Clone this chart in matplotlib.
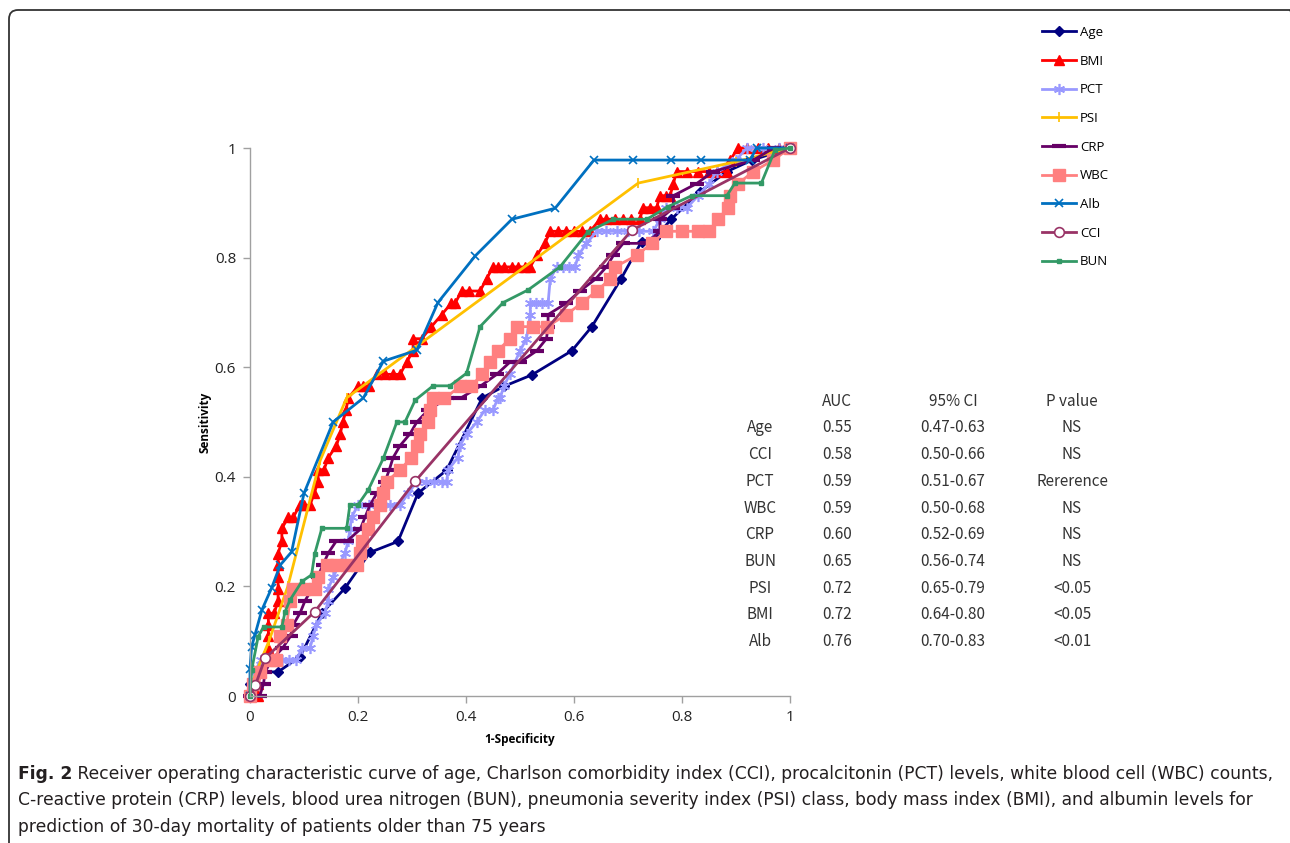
import matplotlib
matplotlib.use("Agg")
import matplotlib.pyplot as plt
from matplotlib.patches import FancyBboxPatch
from matplotlib.transforms import IdentityTransform

# ROC curve points (x = 1-specificity, y = sensitivity)
age_x = [0, 0.0, 0.02, 0.052, 0.093, 0.133, 0.176, 0.222, 0.274, 0.311, 0.364, 0.43, 0.47,
         0.522, 0.596, 0.633, 0.687, 0.725, 0.75, 0.78, 0.833, 0.883, 0.93, 1.0]
age_y = [0, 0.022, 0.044, 0.044, 0.072, 0.151, 0.197, 0.262, 0.282, 0.37, 0.412, 0.544, 0.565,
         0.586, 0.63, 0.674, 0.761, 0.829, 0.836, 0.87, 0.92, 0.957, 0.978, 1.0]

bmi_x = [0, 0.015, 0.015, 0.02, 0.025, 0.034, 0.034, 0.034, 0.034, 0.045, 0.052, 0.052, 0.052,
         0.052, 0.052, 0.059, 0.059, 0.071, 0.08, 0.092, 0.1, 0.111, 0.119, 0.126, 0.126, 0.137,
         0.145, 0.16, 0.167, 0.172, 0.178, 0.182, 0.2, 0.21, 0.22, 0.235, 0.25, 0.265, 0.278,
         0.29, 0.302, 0.302, 0.318, 0.336, 0.355, 0.373, 0.38, 0.392, 0.405, 0.426, 0.438, 0.45,
         0.46, 0.47, 0.485, 0.497, 0.51, 0.519, 0.531, 0.546, 0.556, 0.57, 0.585, 0.6, 0.615,
         0.63, 0.648, 0.66, 0.675, 0.69, 0.705, 0.722, 0.728, 0.74, 0.753, 0.759, 0.77, 0.778,
         0.784, 0.79, 0.81, 0.83, 0.85, 0.865, 0.883, 0.889, 0.904, 0.92, 0.94, 0.96, 0.98, 1.0]
bmi_y = [0, 0.0, 0.022, 0.044, 0.066, 0.087, 0.109, 0.13, 0.151, 0.151, 0.174, 0.196, 0.217,
         0.239, 0.26, 0.283, 0.306, 0.326, 0.326, 0.348, 0.348, 0.348, 0.37, 0.391, 0.413, 0.413,
         0.435, 0.457, 0.478, 0.5, 0.522, 0.544, 0.565, 0.565, 0.565, 0.587, 0.587, 0.587, 0.587,
         0.609, 0.63, 0.652, 0.652, 0.674, 0.696, 0.717, 0.717, 0.739, 0.739, 0.739, 0.761, 0.783,
         0.783, 0.783, 0.783, 0.783, 0.783, 0.783, 0.804, 0.826, 0.848, 0.848, 0.848, 0.848, 0.848,
         0.848, 0.87, 0.87, 0.87, 0.87, 0.87, 0.87, 0.891, 0.891, 0.891, 0.913, 0.913, 0.913,
         0.935, 0.957, 0.957, 0.957, 0.957, 0.957, 0.957, 0.978, 1.0, 1.0, 1.0, 1.0, 1.0, 1.0]

pct_x = [0, 0.005, 0.009, 0.02, 0.035, 0.047, 0.059, 0.072, 0.086, 0.096, 0.111, 0.117, 0.123,
         0.139, 0.145, 0.145, 0.154, 0.165, 0.176, 0.182, 0.185, 0.188, 0.2, 0.22, 0.24, 0.26,
         0.278, 0.293, 0.309, 0.325, 0.34, 0.355, 0.364, 0.367, 0.385, 0.389, 0.401, 0.42, 0.435,
         0.45, 0.459, 0.463, 0.47, 0.481, 0.5, 0.512, 0.519, 0.519, 0.53, 0.54, 0.552, 0.556,
         0.568, 0.58, 0.59, 0.602, 0.608, 0.623, 0.642, 0.66, 0.68, 0.7, 0.72, 0.747, 0.759,
         0.77, 0.79, 0.809, 0.83, 0.85, 0.864, 0.9, 0.92, 0.95, 0.98, 1.0]
pct_y = [0, 0.022, 0.044, 0.066, 0.066, 0.066, 0.066, 0.066, 0.066, 0.087, 0.087, 0.109, 0.13,
         0.152, 0.174, 0.196, 0.217, 0.239, 0.261, 0.283, 0.304, 0.326, 0.348, 0.348, 0.348, 0.348,
         0.348, 0.37, 0.391, 0.391, 0.391, 0.391, 0.391, 0.413, 0.435, 0.457, 0.478, 0.5, 0.522,
         0.522, 0.543, 0.543, 0.565, 0.587, 0.63, 0.652, 0.696, 0.717, 0.717, 0.717, 0.717, 0.761,
         0.783, 0.783, 0.783, 0.783, 0.804, 0.826, 0.848, 0.848, 0.848, 0.848, 0.848, 0.848, 0.87,
         0.891, 0.891, 0.891, 0.913, 0.935, 0.957, 0.978, 1.0, 1.0, 1.0, 1.0]

psi_x = [0, 0.01, 0.035, 0.07, 0.13, 0.179, 0.719, 0.9, 1.0]
psi_y = [0, 0.04, 0.1, 0.2, 0.43, 0.544, 0.936, 0.975, 1.0]

crp_x = [0, 0.018, 0.025, 0.028, 0.04, 0.06, 0.075, 0.08, 0.093, 0.102, 0.115, 0.125, 0.135,
         0.145, 0.16, 0.18, 0.204, 0.213, 0.222, 0.235, 0.25, 0.258, 0.265, 0.278, 0.296, 0.309,
         0.33, 0.365, 0.389, 0.426, 0.457, 0.481, 0.5, 0.531, 0.549, 0.552, 0.552, 0.586, 0.611,
         0.64, 0.66, 0.673, 0.691, 0.735, 0.759, 0.759, 0.784, 0.784, 0.827, 0.858, 0.932, 0.97, 1.0]
crp_y = [0, 0.0, 0.022, 0.044, 0.066, 0.087, 0.109, 0.13, 0.152, 0.174, 0.196, 0.217, 0.239,
         0.261, 0.283, 0.283, 0.304, 0.326, 0.348, 0.37, 0.391, 0.413, 0.435, 0.457, 0.478, 0.5,
         0.522, 0.543, 0.543, 0.565, 0.587, 0.609, 0.609, 0.63, 0.652, 0.674, 0.696, 0.717, 0.739,
         0.761, 0.783, 0.804, 0.826, 0.826, 0.848, 0.87, 0.891, 0.913, 0.935, 0.957, 0.978, 1.0, 1.0]

wbc_x = [0, 0.005, 0.019, 0.037, 0.049, 0.056, 0.068, 0.074, 0.08, 0.1, 0.12, 0.126, 0.142, 0.16,
         0.18, 0.198, 0.204, 0.207, 0.218, 0.228, 0.241, 0.247, 0.253, 0.278, 0.299, 0.31, 0.315,
         0.33, 0.333, 0.339, 0.36, 0.389, 0.41, 0.429, 0.445, 0.459, 0.481, 0.494, 0.524, 0.55,
         0.586, 0.614, 0.642, 0.667, 0.676, 0.716, 0.744, 0.77, 0.8, 0.83, 0.85, 0.867, 0.885,
         0.889, 0.904, 0.932, 0.969, 1.0]
wbc_y = [0, 0.022, 0.044, 0.066, 0.066, 0.109, 0.13, 0.174, 0.196, 0.196, 0.196, 0.217, 0.239,
         0.239, 0.239, 0.239, 0.261, 0.283, 0.304, 0.326, 0.348, 0.37, 0.391, 0.413, 0.435, 0.457,
         0.478, 0.5, 0.522, 0.543, 0.543, 0.565, 0.565, 0.587, 0.609, 0.63, 0.652, 0.674, 0.674,
         0.674, 0.696, 0.717, 0.739, 0.761, 0.783, 0.804, 0.826, 0.848, 0.848, 0.848, 0.848, 0.87,
         0.891, 0.913, 0.935, 0.957, 0.978, 1.0]

alb_x = [0, 0.0, 0.003, 0.009, 0.022, 0.04, 0.056, 0.077, 0.1, 0.154, 0.21, 0.247, 0.309, 0.348,
         0.417, 0.485, 0.565, 0.637, 0.709, 0.779, 0.836, 0.926, 0.938, 1.0]
alb_y = [0, 0.05, 0.09, 0.111, 0.157, 0.197, 0.239, 0.263, 0.37, 0.5, 0.544, 0.611, 0.631, 0.718,
         0.803, 0.87, 0.89, 0.978, 0.978, 0.978, 0.978, 0.978, 1.0, 1.0]

cci_x = [0, 0.01, 0.028, 0.12, 0.306, 0.707, 1.0]
cci_y = [0, 0.02, 0.069, 0.154, 0.392, 0.85, 1.0]

bun_x = [0, 0.003, 0.015, 0.025, 0.059, 0.065, 0.074, 0.096, 0.114, 0.12, 0.133, 0.179, 0.185,
         0.2, 0.219, 0.247, 0.272, 0.287, 0.306, 0.339, 0.37, 0.401, 0.426, 0.469, 0.515, 0.574,
         0.626, 0.673, 0.735, 0.774, 0.818, 0.883, 0.898, 0.947, 0.972, 1.0]
bun_y = [0, 0.047, 0.108, 0.126, 0.126, 0.154, 0.175, 0.209, 0.221, 0.26, 0.306, 0.306, 0.349,
         0.349, 0.376, 0.434, 0.5, 0.5, 0.54, 0.566, 0.566, 0.589, 0.674, 0.718, 0.741, 0.783,
         0.847, 0.87, 0.87, 0.893, 0.913, 0.913, 0.936, 0.936, 0.996, 1.0]

# summary table
tbl_names = ["Age", "CCI", "PCT", "WBC", "CRP", "BUN", "PSI", "BMI", "Alb"]
tbl_auc = ["0.55", "0.58", "0.59", "0.59", "0.60", "0.65", "0.72", "0.72", "0.76"]
tbl_ci = ["0.47-0.63", "0.50-0.66", "0.51-0.67", "0.50-0.68", "0.52-0.69",
          "0.56-0.74", "0.65-0.79", "0.64-0.80", "0.70-0.83"]
tbl_p = ["NS", "NS", "Rererence", "NS", "NS", "NS", "<0.05", "<0.05", "<0.01"]

caption = [
    "Receiver operating characteristic curve of age, Charlson comorbidity index (CCI), procalcitonin (PCT) levels, white blood cell (WBC) counts,",
    "C-reactive protein (CRP) levels, blood urea nitrogen (BUN), pneumonia severity index (PSI) class, body mass index (BMI), and albumin levels for",
    "prediction of 30-day mortality of patients older than 75 years",
]

W, H = 1290, 843
fig = plt.figure(figsize=(W / 100, H / 100), dpi=100)
fig.patch.set_facecolor("white")
ax = fig.add_axes([250 / W, 1 - 696 / H, 540 / W, 548 / H])

series = [
    ("Age", age_x, age_y, dict(color="#000080", marker="D", ms=5)),
    ("BMI", bmi_x, bmi_y, dict(color="#FF0000", marker="^", ms=7)),
    ("PCT", pct_x, pct_y, dict(color="#9999FF", marker=(6, 2, 0), ms=8, mew=1.2)),
    ("PSI", psi_x, psi_y, dict(color="#FFC000", marker="|", ms=7, mew=1.2)),
    ("CRP", crp_x, crp_y, dict(color="#660066", marker="_", ms=10, mew=3)),
    ("WBC", wbc_x, wbc_y, dict(color="#FF8080", marker="s", ms=8)),
    ("Alb", alb_x, alb_y, dict(color="#0070C0", marker="x", ms=6, mew=1.2)),
    ("CCI", cci_x, cci_y, dict(color="#993366", marker="o", ms=7, mfc="white", mew=1.2)),
    ("BUN", bun_x, bun_y, dict(color="#339966", marker="s", ms=2.5)),
]
for name, xs, ys, st in series:
    ax.plot(xs, ys, label=name, lw=2, clip_on=False, **st)

ax.set_xlim(0, 1)
ax.set_ylim(0, 1)
ax.set_xticks([0, 0.2, 0.4, 0.6, 0.8, 1])
ax.set_yticks([0, 0.2, 0.4, 0.6, 0.8, 1])
ax.set_xticklabels(["0", "0.2", "0.4", "0.6", "0.8", "1"])
ax.set_yticklabels(["0", "0.2", "0.4", "0.6", "0.8", "1"])
for s in ["top", "right"]:
    ax.spines[s].set_visible(False)
for s in ["left", "bottom"]:
    ax.spines[s].set_color("#A0A0A0")
    ax.spines[s].set_linewidth(1)
ax.tick_params(colors="#A0A0A0", labelcolor="#222222", length=5, width=1,
               labelsize=11, pad=5)
for lab in ax.get_xticklabels() + ax.get_yticklabels():
    lab.set_family("Open Sans")
ax.set_xlabel("1-Specificity", fontsize=8.5, fontweight="bold", family="Open Sans", labelpad=6)
ax.set_ylabel("Sensitivity", fontsize=8.5, fontweight="bold", family="Open Sans", labelpad=2)

leg = fig.legend(loc="upper left", bbox_to_anchor=(1030 / W, 1 - 14 / H), frameon=False,
                 handlelength=2.6, handletextpad=0.3, labelspacing=1.19,
                 prop={"family": "Open Sans", "size": 9.5})

# table
tfont = ["Noto Sans CJK JP", "DejaVu Sans"]
hy = 401
for label, xc in [("AUC", 837), ("95% CI", 953), ("P value", 1072)]:
    fig.text(xc / W, 1 - hy / H, label, ha="center", va="center", fontsize=11,
             family=tfont, color="#333333")
for i, name in enumerate(tbl_names):
    y = 1 - (428 + i * 26.7) / H
    for txt, xc in [(name, 760), (tbl_auc[i], 837), (tbl_ci[i], 953), (tbl_p[i], 1072)]:
        fig.text(xc / W, y, txt, ha="center", va="center", fontsize=11,
                 family=tfont, color="#333333")

# caption
cfont = ["Liberation Sans Narrow", "DejaVu Sans"]
csize = 12.3
t0 = fig.text(18 / W, 1 - 774 / H, "Fig. 2", fontsize=csize, fontweight="bold",
              family=cfont, va="center", color="#231f20")
ax.annotate(" " + caption[0], xy=(1, 0.5), xycoords=t0, va="center", ha="left",
            fontsize=csize, family=cfont, color="#231f20", annotation_clip=False)
for i, line in enumerate(caption[1:]):
    fig.text(18 / W, 1 - (800 + 26.5 * i) / H, line, fontsize=csize, family=cfont,
             va="center", color="#231f20")

# rounded frame around the figure panel (right and bottom edges run off the image)
frame = FancyBboxPatch((9, -12), 1290, 845, boxstyle="round,pad=0,rounding_size=9",
                       transform=IdentityTransform(), fill=False, ec="#333333", lw=1.3)
fig.patches.append(frame)

fig.savefig("out.png", dpi=100)
